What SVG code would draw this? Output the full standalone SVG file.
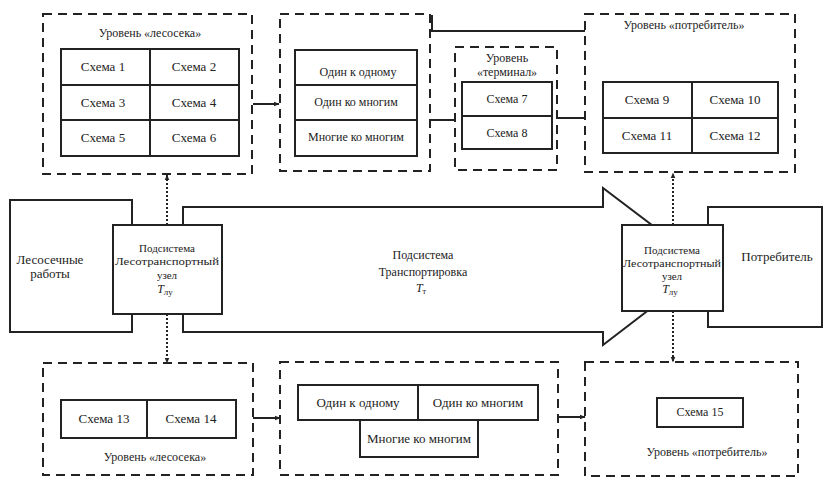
<svg xmlns="http://www.w3.org/2000/svg" width="829" height="481" viewBox="0 0 829 481">
<defs>
<marker id="ah" viewBox="0 0 10 10" refX="9" refY="5" markerWidth="6" markerHeight="6" orient="auto-start-reverse" markerUnits="userSpaceOnUse">
<path d="M0,1 L10,5 L0,9 z" fill="#222"/>
</marker>
<style>
.dash{fill:none;stroke:#222;stroke-width:2;stroke-dasharray:9,6}
.box{fill:#fff;stroke:#222;stroke-width:2}
.ln{fill:none;stroke:#222;stroke-width:2}
.dot{fill:none;stroke:#222;stroke-width:2;stroke-dasharray:2,2}
text{fill:#222;text-anchor:middle;font-family:'Liberation Serif','DejaVu Serif','Times New Roman',serif}
.t13{font-size:13px}
.t12{font-size:12px}
.t11{font-size:11px}
</style>
</defs>
<rect width="829" height="481" fill="#fff"/>

<g id="big-arrow">
<polygon class="box" points="183,207 603,207 603,188 706,266 603,345 603,332 183,332"/>
<text class="t12" x="423" y="259">Подсистема</text>
<text class="t12" x="423" y="276">Транспортировка</text>
<text class="t12" x="421" y="292" font-style="italic">T<tspan font-size="8" dy="2" font-style="normal">т</tspan></text>
</g>

<g id="node-lesosech">
<rect class="box" x="10" y="200" width="122" height="132"/>
<text class="t13" x="50" y="264">Лесосечные</text>
<text class="t13" x="50" y="278">работы</text>
</g>

<g id="node-consumer">
<rect class="box" x="708" y="207" width="114" height="120"/>
<text class="t13" x="777" y="261">Потребитель</text>
</g>

<g id="node-ltu-left">
<rect class="box" x="113" y="225" width="109" height="89"/>
<text class="t11" x="167" y="252">Подсистема</text>
<text class="t11" x="167" y="265" textLength="104" lengthAdjust="spacingAndGlyphs">Лесотранспортный</text>
<text class="t11" x="167" y="279">узел</text>
<text class="t12" x="165" y="293" font-style="italic">T<tspan font-size="9" dy="2" font-style="normal">лу</tspan></text>
</g>

<g id="node-ltu-right">
<rect class="box" x="622" y="225" width="101" height="86"/>
<text class="t11" x="672" y="254">Подсистема</text>
<text class="t11" x="672" y="267" textLength="98" lengthAdjust="spacingAndGlyphs">Лесотранспортный</text>
<text class="t11" x="672" y="280">узел</text>
<text class="t12" x="670" y="293" font-style="italic">T<tspan font-size="9" dy="2" font-style="normal">лу</tspan></text>
</g>

<g id="level-lesoseka-top">
<rect class="dash" x="43" y="14" width="209" height="160"/>
<text class="t12" x="150" y="37">Уровень «лесосека»</text>
<rect class="box" x="61" y="49" width="178" height="107"/>
<line class="ln" x1="61" y1="85" x2="239" y2="85"/>
<line class="ln" x1="61" y1="120" x2="239" y2="120"/>
<line class="ln" x1="150" y1="49" x2="150" y2="156"/>
<text class="t13" x="103" y="71">Схема 1</text>
<text class="t13" x="194" y="71">Схема 2</text>
<text class="t13" x="103" y="107">Схема 3</text>
<text class="t13" x="194" y="107">Схема 4</text>
<text class="t13" x="103" y="142">Схема 5</text>
<text class="t13" x="194" y="142">Схема 6</text>
</g>

<g id="level-links-top">
<rect class="dash" x="280" y="14" width="150" height="157"/>
<rect class="box" x="295" y="50" width="122" height="106"/>
<line class="ln" x1="295" y1="85" x2="417" y2="85"/>
<line class="ln" x1="295" y1="120" x2="417" y2="120"/>
<text class="t12" x="358" y="76">Один к одному</text>
<text class="t12" x="356" y="106">Один ко многим</text>
<text class="t12" x="356" y="141">Многие ко многим</text>
</g>

<g id="level-terminal">
<rect class="dash" x="455" y="47" width="102" height="123"/>
<text class="t12" x="507" y="62">Уровень</text>
<text class="t12" x="507" y="76">«терминал»</text>
<rect class="box" x="462" y="82" width="90" height="67"/>
<line class="ln" x1="462" y1="116" x2="552" y2="116"/>
<text class="t12" x="507" y="103">Схема 7</text>
<text class="t12" x="507" y="137">Схема 8</text>
</g>

<g id="level-consumer-top">
<rect class="dash" x="585" y="14" width="210" height="158"/>
<text class="t12" x="684" y="29">Уровень «потребитель»</text>
<rect class="box" x="603" y="82" width="175" height="71"/>
<line class="ln" x1="603" y1="118" x2="778" y2="118"/>
<line class="ln" x1="692" y1="82" x2="692" y2="153"/>
<text class="t13" x="647" y="104">Схема 9</text>
<text class="t13" x="735" y="104">Схема 10</text>
<text class="t13" x="647" y="140">Схема 11</text>
<text class="t13" x="735" y="140">Схема 12</text>
</g>

<g id="level-lesoseka-bottom">
<rect class="dash" x="43" y="363" width="210" height="112"/>
<rect class="box" x="61" y="400" width="175" height="38"/>
<line class="ln" x1="147" y1="400" x2="147" y2="438"/>
<text class="t13" x="104" y="423">Схема 13</text>
<text class="t13" x="191" y="423">Схема 14</text>
<text class="t12" x="155" y="461">Уровень «лесосека»</text>
</g>

<g id="level-links-bottom">
<rect class="dash" x="280" y="362" width="278" height="113"/>
<rect class="box" x="298" y="385" width="120" height="35"/>
<rect class="box" x="418" y="385" width="120" height="35"/>
<rect class="box" x="360" y="420" width="118" height="37"/>
<text class="t13" x="358" y="407">Один к одному</text>
<text class="t13" x="478" y="407">Один ко многим</text>
<text class="t13" x="419" y="443">Многие ко многим</text>
</g>

<g id="level-consumer-bottom">
<rect class="dash" x="585" y="362" width="213" height="114"/>
<rect class="box" x="657" y="398" width="86" height="29"/>
<text class="t12" x="700" y="416">Схема 15</text>
<text class="t12" x="707" y="456">Уровень «потребитель»</text>
</g>

<g id="connectors">
<line class="ln" x1="253" y1="104" x2="279" y2="104" marker-end="url(#ah)"/>
<line class="ln" x1="430" y1="120" x2="455" y2="120"/>
<polyline class="ln" points="432,15 432,31 585,31"/>
<line class="ln" x1="557" y1="118" x2="585" y2="118"/>
<line class="ln" x1="253" y1="418" x2="280" y2="418" marker-end="url(#ah)"/>
<line class="ln" x1="558" y1="417" x2="585" y2="417" marker-end="url(#ah)"/>
<line class="dot" x1="167" y1="225" x2="167" y2="175" marker-end="url(#ah)"/>
<line class="dot" x1="673" y1="225" x2="673" y2="173" marker-end="url(#ah)"/>
<line class="dot" x1="167" y1="314" x2="167" y2="363" marker-end="url(#ah)"/>
<line class="dot" x1="673" y1="311" x2="673" y2="362" marker-end="url(#ah)"/>
</g>
</svg>
